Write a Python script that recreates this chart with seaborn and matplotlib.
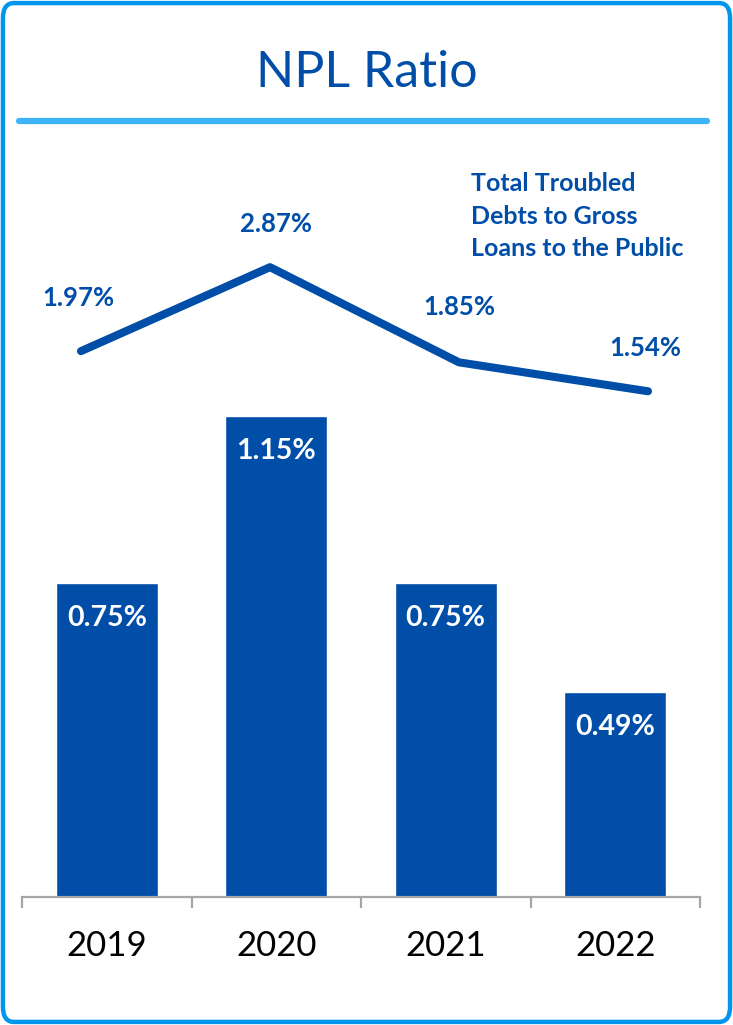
import matplotlib
matplotlib.use("Agg")
import matplotlib.pyplot as plt
import seaborn as sns
import pandas as pd
from matplotlib.patches import FancyBboxPatch
from matplotlib.lines import Line2D

# data
years = ["2019", "2020", "2021", "2022"]
npl_ratio = [0.75, 1.15, 0.75, 0.49]
troubled_ratio = [1.97, 2.87, 1.85, 1.54]
line_label = "Total Troubled\nDebts to Gross\nLoans to the Public"

BLUE = "#004EA8"
BORDER = "#0096EE"
RULE = "#3DB4F9"

sns.set_theme(style="white")
plt.rcParams['font.family'] = ['Lato', 'DejaVu Sans']

df = pd.DataFrame({"Year": years, "NPL": npl_ratio, "Troubled": troubled_ratio})
df["pos"] = range(len(df))

fig = plt.figure(figsize=(7.33, 10.25), dpi=100)

# frame and title
fig.patches.append(FancyBboxPatch((0.004, 0.003), 0.992, 0.994, transform=fig.transFigure,
                                  boxstyle="round,pad=0,rounding_size=0.015",
                                  facecolor="none", edgecolor=BORDER, linewidth=3.2))
fig.text(0.5, 0.929, "NPL Ratio", ha="center", va="center", fontsize=36, color=BLUE)
fig.lines.append(Line2D([0.026, 0.965], [0.882, 0.882], transform=fig.transFigure,
                        color=RULE, linewidth=4.5))

rect = [22 / 733, 128 / 1025, 678 / 733, 753 / 1025]

# bars
ax = fig.add_axes(rect)
sns.barplot(data=df, x="Year", y="NPL", color=BLUE, width=0.6, saturation=1, ax=ax)
ax.set_xlim(-0.5, 3.5)
ax.set_ylim(0, 1.8)
for p, v in zip(ax.patches, npl_ratio):
    ax.annotate(f"{v:.2f}%", (p.get_x() + p.get_width() / 2, p.get_height()),
                xytext=(0, -25), textcoords="offset points", ha="center", va="center",
                color="white", fontsize=20.5, fontweight="bold")
for s in ["top", "left", "right"]:
    ax.spines[s].set_visible(False)
ax.spines["bottom"].set_color("#A6A6A6")
ax.spines["bottom"].set_linewidth(1.6)
ax.set_yticks([])
ax.set_xlabel("")
ax.set_ylabel("")
ax.set_xticks([-0.5, 0.5, 1.5, 2.5, 3.5], minor=True)
ax.tick_params(axis="x", which="minor", bottom=True, length=8, width=1.6, color="#A6A6A6")
ax.tick_params(axis="x", which="major", bottom=False, length=0, pad=24, labelsize=25,
               labelcolor="black")
ax.patch.set_alpha(0)

# line on its own overlay axes
ax2 = fig.add_axes(rect)
sns.lineplot(data=df, x="pos", y="Troubled", color=BLUE, linewidth=5.8, ax=ax2,
             solid_capstyle="round")
ax2.set_xlim(-0.312, 3.275)
ax2.set_ylim(-3.88, 4.19)
offsets = [(-2, 38), (4, 31), (0, 40), (-2, 31)]
for x, v, off in zip(df["pos"], troubled_ratio, offsets):
    ax2.annotate(f"{v:.2f}%", (x, v), xytext=off, textcoords="offset points",
                 ha="center", va="center", color=BLUE, fontsize=18.5, fontweight="bold")
ax2.axis("off")

fig.text(471 / 733, 1 - 216 / 1025, line_label, ha="left", va="center", color=BLUE,
         fontsize=18, fontweight="bold", linespacing=1.5)

plt.savefig("out.png", dpi=100)
